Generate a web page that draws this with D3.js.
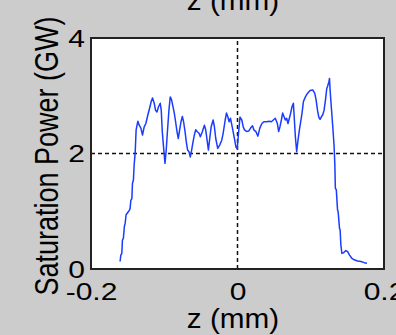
<!DOCTYPE html>
<html>
<head>
<meta charset="utf-8">
<script src="https://cdn.jsdelivr.net/npm/d3@7"></script>
<style>
  html, body { margin: 0; padding: 0; background: #cccccc; }
  svg { display: block; }
  text { font-family: "Liberation Sans", Arial, Helvetica, sans-serif; fill: #000; }
</style>
</head>
<body>
<svg id="chart" width="396" height="335"></svg>
<script>
// Position along the undulator (mm)
const zValues = [
  -0.1603, -0.1593, -0.1579, -0.1571, -0.1558, -0.1544, -0.1534, -0.1521, -0.1503, -0.1475,
  -0.1466, -0.1456, -0.1442, -0.1434, -0.1421, -0.1411, -0.1397, -0.1384, -0.1360, -0.1342,
  -0.1319, -0.1297, -0.1274, -0.1251, -0.1229, -0.1201, -0.1178, -0.1160, -0.1137, -0.1119,
  -0.1100, -0.1078, -0.1055, -0.1041, -0.1027, -0.1010, -0.0990, -0.0973, -0.0955, -0.0936,
  -0.0918, -0.0900, -0.0881, -0.0863, -0.0845, -0.0826, -0.0808, -0.0790, -0.0771, -0.0753,
  -0.0736, -0.0716, -0.0699, -0.0681, -0.0662, -0.0644, -0.0626, -0.0607, -0.0589, -0.0571,
  -0.0552, -0.0525, -0.0507, -0.0479, -0.0452, -0.0434, -0.0415, -0.0397, -0.0379, -0.0360,
  -0.0333, -0.0315, -0.0297, -0.0270, -0.0242, -0.0215, -0.0196, -0.0168, -0.0151, -0.0133,
  -0.0114, -0.0096, -0.0075, -0.0048, -0.0021, -0.0004, 0.0014, 0.0034, 0.0059, 0.0078,
  0.0096, 0.0123, 0.0155, 0.0178, 0.0205, 0.0223, 0.0251, 0.0278, 0.0305, 0.0333,
  0.0360, 0.0397, 0.0434, 0.0462, 0.0489, 0.0516, 0.0544, 0.0562, 0.0579, 0.0599,
  0.0616, 0.0634, 0.0653, 0.0671, 0.0689, 0.0708, 0.0726, 0.0744, 0.0763, 0.0771,
  0.0790, 0.0808, 0.0826, 0.0845, 0.0863, 0.0881, 0.0900, 0.0927, 0.0955, 0.0990,
  0.1027, 0.1055, 0.1073, 0.1092, 0.1110, 0.1127, 0.1147, 0.1164, 0.1182, 0.1201,
  0.1219, 0.1229, 0.1247, 0.1256, 0.1264, 0.1284, 0.1301, 0.1319, 0.1329, 0.1336,
  0.1349, 0.1366, 0.1374, 0.1393, 0.1401, 0.1411, 0.1425, 0.1448, 0.1479, 0.1503,
  0.1530, 0.1558, 0.1593, 0.1640, 0.1685, 0.1730, 0.1767
];

// Saturation power (GW) at each position
const powerValues = [
  0.13, 0.24, 0.27, 0.50, 0.53, 0.74, 0.79, 0.94, 0.97, 1.02,
  1.05, 1.19, 1.22, 1.48, 1.54, 1.80, 2.01, 2.41, 2.56, 2.49,
  2.44, 2.32, 2.46, 2.52, 2.64, 2.78, 2.90, 2.96, 2.87, 2.75,
  2.72, 2.81, 2.87, 2.75, 2.38, 2.12, 1.83, 2.06, 2.41, 2.75,
  2.98, 2.93, 2.81, 2.70, 2.55, 2.38, 2.26, 2.41, 2.55, 2.64,
  2.55, 2.38, 2.20, 2.06, 2.03, 1.94, 2.06, 2.20, 2.32, 2.41,
  2.38, 2.35, 2.29, 2.38, 2.49, 2.41, 2.23, 2.06, 2.26, 2.46,
  2.58, 2.46, 2.26, 2.09, 2.15, 2.23, 2.35, 2.58, 2.70, 2.64,
  2.55, 2.61, 2.48, 2.30, 2.11, 2.08, 2.35, 2.63, 2.58, 2.46,
  2.41, 2.38, 2.39, 2.44, 2.48, 2.41, 2.38, 2.30, 2.44, 2.52,
  2.55, 2.55, 2.56, 2.55, 2.58, 2.61, 2.52, 2.38, 2.46, 2.58,
  2.70, 2.64, 2.58, 2.61, 2.52, 2.61, 2.70, 2.81, 2.87, 2.70,
  2.29, 2.03, 2.23, 2.41, 2.55, 2.70, 2.90, 2.98, 3.04, 3.09,
  3.10, 3.04, 2.93, 2.75, 2.63, 2.59, 2.64, 2.67, 2.75, 2.93,
  3.13, 3.16, 3.24, 3.30, 3.10, 2.75, 2.46, 2.12, 1.80, 1.40,
  1.37, 1.02, 0.99, 0.70, 0.68, 0.42, 0.27, 0.28, 0.32, 0.30,
  0.24, 0.19, 0.16, 0.14, 0.13, 0.11, 0.10
];

const xTicks = [-0.2, 0, 0.2];
const xTickLabels = ["-0.2", "0", "0.2"];
const yTicks = [0, 2, 4];
const yTickLabels = ["0", "2", "4"];
const xLabel = "z (mm)";
const yLabel = "Saturation Power (GW)";

const W = 396, H = 335;
const margin = { top: 38, right: 12, bottom: 66, left: 91 };
const innerW = W - margin.left - margin.right;
const innerH = H - margin.top - margin.bottom;

const svg = d3.select("#chart");

const x = d3.scaleLinear().domain([-0.2, 0.2]).range([margin.left, margin.left + innerW]);
const y = d3.scaleLinear().domain([0, 4]).range([margin.top + innerH, margin.top]);

// Axes background
svg.append("rect")
  .attr("x", margin.left).attr("y", margin.top)
  .attr("width", innerW).attr("height", innerH)
  .attr("fill", "#ffffff");

// Dashed reference lines at z = 0 and P = 2
svg.append("line")
  .attr("x1", x(0)).attr("x2", x(0))
  .attr("y1", y(0)).attr("y2", y(4))
  .attr("stroke", "#111").attr("stroke-width", 1.5)
  .attr("stroke-dasharray", "4,3");
svg.append("line")
  .attr("x1", x(-0.2)).attr("x2", x(0.2))
  .attr("y1", y(2)).attr("y2", y(2))
  .attr("stroke", "#111").attr("stroke-width", 1.5)
  .attr("stroke-dasharray", "4,3");

// Power profile
const line = d3.line()
  .x((d, i) => x(zValues[i]))
  .y(d => y(d));
svg.append("path")
  .datum(powerValues)
  .attr("d", line)
  .attr("fill", "none")
  .attr("stroke", "#1a3cff")
  .attr("stroke-width", 1.5)
  .attr("stroke-linejoin", "round");

// Frame
svg.append("rect")
  .attr("x", margin.left).attr("y", margin.top)
  .attr("width", innerW).attr("height", innerH)
  .attr("fill", "none")
  .attr("stroke", "#222").attr("stroke-width", 2);

// Axes via d3 (tick marks hidden; labels stretched horizontally)
const xAxis = d3.axisBottom(x)
  .tickValues(xTicks)
  .tickFormat((d, i) => xTickLabels[i])
  .tickSize(0);
const gx = svg.append("g")
  .attr("transform", `translate(0,${margin.top + innerH})`)
  .call(xAxis);
gx.select(".domain").remove();
gx.selectAll(".tick text")
  .attr("y", 0).attr("dy", null)
  .attr("transform", "translate(0,31) scale(1.25,1)")
  .attr("font-size", 24)
  .attr("font-family", "Liberation Sans, Arial, sans-serif");

const yAxis = d3.axisLeft(y)
  .tickValues(yTicks)
  .tickFormat((d, i) => yTickLabels[i])
  .tickSize(0);
const gy = svg.append("g")
  .attr("transform", `translate(${margin.left},0)`)
  .call(yAxis);
gy.select(".domain").remove();
gy.selectAll(".tick text")
  .attr("x", 0).attr("dy", null)
  .attr("transform", "translate(-6,8) scale(1.25,1)")
  .attr("font-size", 24)
  .attr("font-family", "Liberation Sans, Arial, sans-serif");

// Axis titles
svg.append("text")
  .attr("transform", `translate(233,328) scale(1.1,1)`)
  .attr("text-anchor", "middle")
  .attr("font-size", 27)
  .text(xLabel);

// Same title belonging to the panel above, clipped by the top edge
svg.append("text")
  .attr("transform", `translate(233,10) scale(1.1,1)`)
  .attr("text-anchor", "middle")
  .attr("font-size", 27)
  .text(xLabel);

svg.append("text")
  .attr("transform", `translate(58,156) rotate(-90) scale(1,1.25)`)
  .attr("text-anchor", "middle")
  .attr("font-size", 27)
  .text(yLabel);
</script>
</body>
</html>
